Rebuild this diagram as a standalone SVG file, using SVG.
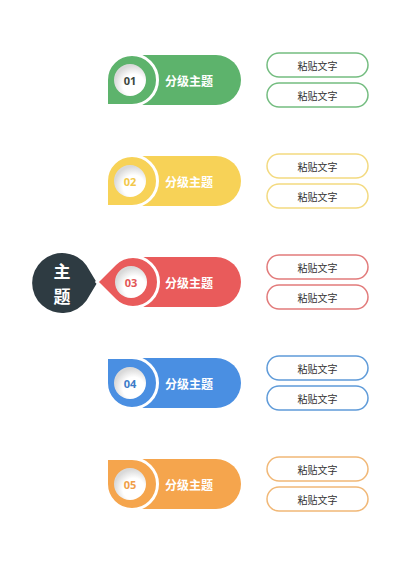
<svg xmlns="http://www.w3.org/2000/svg" xmlns:xlink="http://www.w3.org/1999/xlink" width="400" height="565" viewBox="0 0 400 565">
<defs>
<style>
.pilltxt{font-family:"Noto Sans CJK SC","Noto Sans",sans-serif;font-weight:bold;font-size:12px;fill:#ffffff;text-anchor:middle;dominant-baseline:central}
.num{font-family:"Open Sans","Noto Sans",sans-serif;font-weight:bold;font-size:11px;text-anchor:middle;dominant-baseline:central}
.box{fill:#ffffff;stroke-width:1.5}
.boxtxt{font-family:"Noto Sans CJK SC","Noto Sans",sans-serif;font-size:10px;fill:#333333;text-anchor:middle;dominant-baseline:central}
.drop{stroke:#ffffff;stroke-width:3}
.main{font-family:"Noto Sans CJK SC","Noto Sans",sans-serif;font-weight:bold;font-size:17px;fill:#ffffff;text-anchor:middle;dominant-baseline:central}
</style>
<radialGradient id="inner" cx="0.62" cy="0.66" r="0.62">
<stop offset="0.55" stop-color="#ffffff"/>
<stop offset="1" stop-color="#d9d9d9"/>
</radialGradient>
<path id="drop" d="M -25.5 0 L -25.5 25.5 L 0 25.5 A 25.5 25.5 0 1 0 -25.5 0 Z"/>
<path id="pill" d="M 0 -25 H 76 A 25 25 0 0 1 76 25 H 0 Z"/>
</defs>

<g id="connectors"></g>

<g id="main-topic">
<path d="M 97 283 L 86.5 265.5 A 30 30 0 1 0 86.5 300.5 Z" fill="#2e3b42"/>
<text class="main" x="62" y="270">主</text>
<text class="main" x="62" y="295">题</text>
</g>

<g id="topic-01">
<use xlink:href="#pill" transform="translate(140,80)" fill="#5db36c"/>
<use xlink:href="#drop" class="drop" transform="translate(132,80)" fill="#5db36c"/>
<circle cx="130" cy="80" r="16" fill="url(#inner)"/>
<text class="num" x="130" y="80" fill="#3b4640">01</text>
<text class="pilltxt" x="189" y="80">分级主题</text>
</g>
<g id="text-01a"><rect class="box" x="267" y="53" width="101" height="24" rx="12" stroke="#74bd80"/><text class="boxtxt" x="317.5" y="65">粘贴文字</text></g>
<g id="text-01b"><rect class="box" x="267" y="83" width="101" height="24" rx="12" stroke="#74bd80"/><text class="boxtxt" x="317.5" y="95">粘贴文字</text></g>

<g id="topic-02">
<use xlink:href="#pill" transform="translate(140,181)" fill="#f7d257"/>
<use xlink:href="#drop" class="drop" transform="translate(132,181)" fill="#f7d257"/>
<circle cx="130" cy="181" r="16" fill="url(#inner)"/>
<text class="num" x="130" y="181" fill="#f2c84a">02</text>
<text class="pilltxt" x="189" y="181">分级主题</text>
</g>
<g id="text-02a"><rect class="box" x="267" y="154" width="101" height="24" rx="12" stroke="#f3da80"/><text class="boxtxt" x="317.5" y="166">粘贴文字</text></g>
<g id="text-02b"><rect class="box" x="267" y="184" width="101" height="24" rx="12" stroke="#f3da80"/><text class="boxtxt" x="317.5" y="196">粘贴文字</text></g>

<g id="topic-03">
<use xlink:href="#pill" transform="translate(140,282)" fill="#e95b5b"/>
<use xlink:href="#drop" class="drop" transform="translate(133,282) rotate(45)" fill="#e95b5b"/>
<circle cx="131" cy="282" r="16" fill="url(#inner)"/>
<text class="num" x="131" y="282" fill="#e25656">03</text>
<text class="pilltxt" x="189" y="282">分级主题</text>
</g>
<g id="text-03a"><rect class="box" x="267" y="255" width="101" height="24" rx="12" stroke="#e27b7b"/><text class="boxtxt" x="317.5" y="267">粘贴文字</text></g>
<g id="text-03b"><rect class="box" x="267" y="285" width="101" height="24" rx="12" stroke="#e27b7b"/><text class="boxtxt" x="317.5" y="297">粘贴文字</text></g>

<g id="topic-04">
<use xlink:href="#pill" transform="translate(140,383)" fill="#4a8fe2"/>
<use xlink:href="#drop" class="drop" transform="translate(132,383) rotate(90)" fill="#4a8fe2"/>
<circle cx="130" cy="383" r="16" fill="url(#inner)"/>
<text class="num" x="130" y="383" fill="#3d7cc8">04</text>
<text class="pilltxt" x="189" y="383">分级主题</text>
</g>
<g id="text-04a"><rect class="box" x="267" y="356" width="101" height="24" rx="12" stroke="#5f9bd9"/><text class="boxtxt" x="317.5" y="368">粘贴文字</text></g>
<g id="text-04b"><rect class="box" x="267" y="386" width="101" height="24" rx="12" stroke="#5f9bd9"/><text class="boxtxt" x="317.5" y="398">粘贴文字</text></g>

<g id="topic-05">
<use xlink:href="#pill" transform="translate(140,484)" fill="#f5a54d"/>
<use xlink:href="#drop" class="drop" transform="translate(132,484) rotate(90)" fill="#f5a54d"/>
<circle cx="130" cy="484" r="16" fill="url(#inner)"/>
<text class="num" x="130" y="484" fill="#f09e48">05</text>
<text class="pilltxt" x="189" y="484">分级主题</text>
</g>
<g id="text-05a"><rect class="box" x="267" y="457" width="101" height="24" rx="12" stroke="#f1b877"/><text class="boxtxt" x="317.5" y="469">粘贴文字</text></g>
<g id="text-05b"><rect class="box" x="267" y="487" width="101" height="24" rx="12" stroke="#f1b877"/><text class="boxtxt" x="317.5" y="499">粘贴文字</text></g>
</svg>
